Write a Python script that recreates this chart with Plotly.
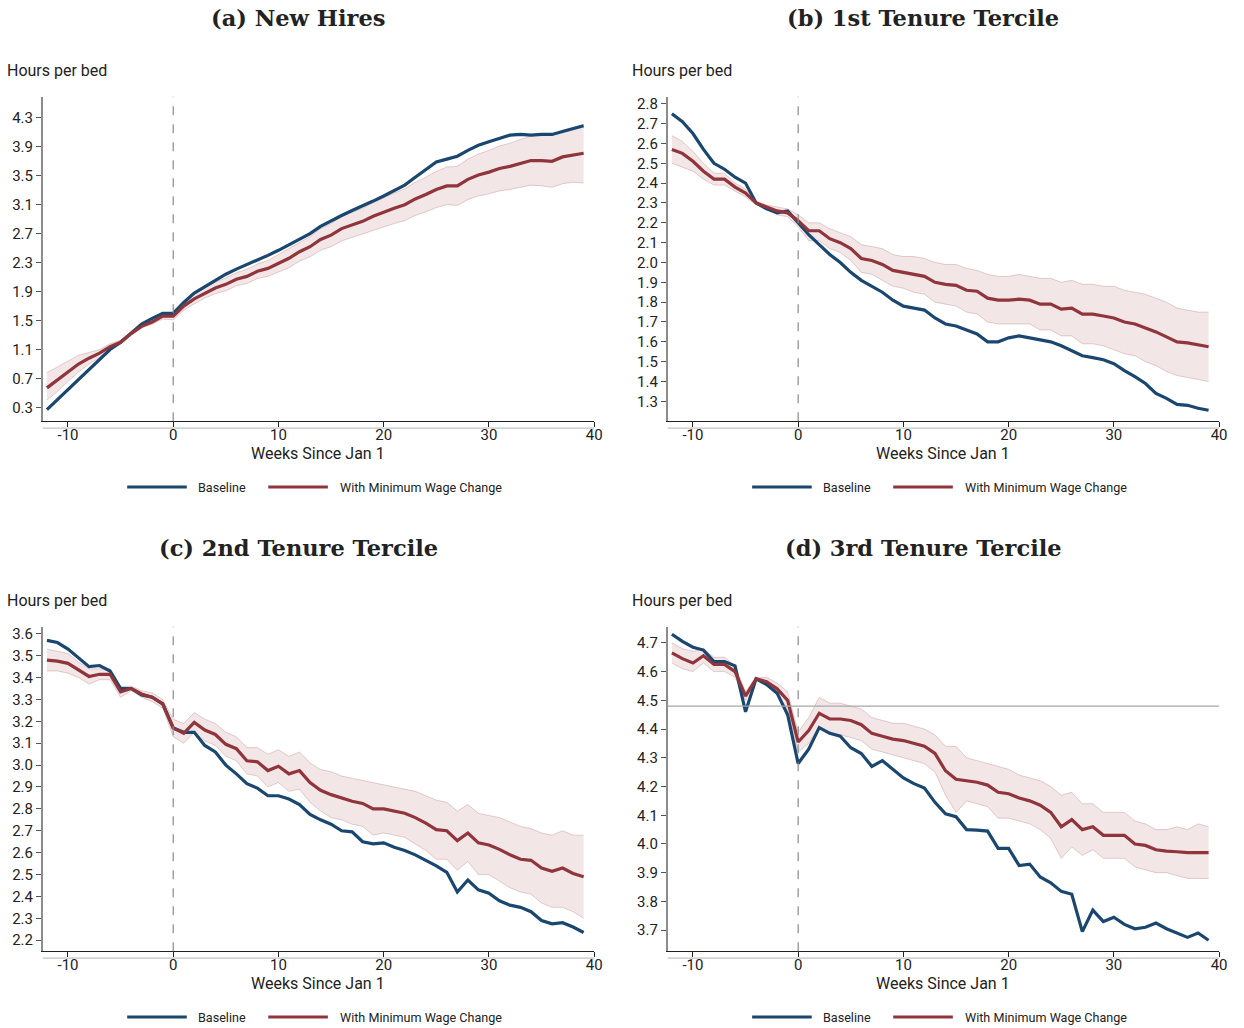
import plotly.graph_objects as go

W, H = 1244, 1028

weeks = list(range(-12, 40))

# Panel (a) New Hires
a_base = [0.27, 0.41, 0.55, 0.69, 0.82, 0.96, 1.10, 1.20, 1.33, 1.45, 1.53, 1.60,
          1.60, 1.75, 1.88, 1.97, 2.06, 2.14, 2.21, 2.27, 2.33, 2.40, 2.47, 2.55,
          2.63, 2.70, 2.80, 2.88, 2.95, 3.02, 3.08, 3.15, 3.22, 3.30, 3.37, 3.48,
          3.59, 3.69, 3.73, 3.77, 3.85, 3.92, 3.97, 4.02, 4.06, 4.07, 4.06, 4.07,
          4.07, 4.11, 4.15, 4.19]
a_mw = [0.57, 0.68, 0.80, 0.90, 0.98, 1.05, 1.14, 1.20, 1.32, 1.42, 1.48, 1.56,
        1.56, 1.70, 1.80, 1.88, 1.95, 2.00, 2.07, 2.11, 2.18, 2.22, 2.29, 2.36,
        2.45, 2.52, 2.62, 2.68, 2.77, 2.82, 2.87, 2.94, 3.00, 3.05, 3.10, 3.18,
        3.24, 3.31, 3.36, 3.36, 3.45, 3.51, 3.55, 3.60, 3.63, 3.67, 3.71, 3.71,
        3.70, 3.76, 3.79, 3.81]
a_hi = [0.78, 0.86, 0.94, 1.02, 1.06, 1.10, 1.18, 1.23, 1.34, 1.44, 1.51, 1.60,
        1.61, 1.76, 1.87, 1.95, 2.03, 2.09, 2.16, 2.21, 2.28, 2.33, 2.41, 2.49,
        2.58, 2.66, 2.77, 2.84, 2.94, 2.99, 3.05, 3.13, 3.20, 3.26, 3.32, 3.41,
        3.48, 3.56, 3.62, 3.63, 3.73, 3.80, 3.85, 3.91, 3.95, 4.00, 4.05, 4.06,
        4.06, 4.13, 4.17, 4.21]
a_lo = [0.40, 0.52, 0.66, 0.79, 0.90, 0.99, 1.10, 1.17, 1.30, 1.40, 1.45, 1.52,
        1.51, 1.64, 1.73, 1.81, 1.87, 1.91, 1.98, 2.01, 2.08, 2.11, 2.17, 2.23,
        2.32, 2.38, 2.47, 2.52, 2.60, 2.65, 2.69, 2.75, 2.80, 2.84, 2.88, 2.95,
        3.00, 3.06, 3.10, 3.09, 3.17, 3.22, 3.25, 3.29, 3.31, 3.34, 3.37, 3.36,
        3.34, 3.39, 3.41, 3.40]

# Panel (b) 1st Tenure Tercile
b_base = [2.75, 2.71, 2.65, 2.57, 2.50, 2.47, 2.43, 2.40, 2.30, 2.27, 2.25, 2.26,
          2.20, 2.14, 2.09, 2.04, 2.00, 1.95, 1.91, 1.88, 1.85, 1.81, 1.78, 1.77,
          1.76, 1.72, 1.69, 1.68, 1.66, 1.64, 1.60, 1.60, 1.62, 1.63, 1.62, 1.61,
          1.60, 1.58, 1.555, 1.53, 1.52, 1.51, 1.49, 1.455, 1.425, 1.39, 1.34, 1.315,
          1.285, 1.28, 1.265, 1.255]
b_mw = [2.57, 2.55, 2.51, 2.46, 2.42, 2.42, 2.38, 2.35, 2.30, 2.28, 2.26, 2.25,
        2.21, 2.16, 2.16, 2.12, 2.10, 2.07, 2.02, 2.01, 1.99, 1.96, 1.95, 1.94,
        1.93, 1.90, 1.89, 1.885, 1.86, 1.855, 1.82, 1.81, 1.81, 1.815, 1.81, 1.79,
        1.79, 1.765, 1.77, 1.74, 1.74, 1.73, 1.72, 1.70, 1.69, 1.67, 1.65, 1.625,
        1.60, 1.595, 1.585, 1.575]
b_hi = [2.64, 2.61, 2.56, 2.50, 2.45, 2.45, 2.40, 2.37, 2.31, 2.29, 2.28, 2.27,
        2.24, 2.20, 2.20, 2.17, 2.15, 2.13, 2.09, 2.08, 2.07, 2.04, 2.03, 2.03,
        2.02, 2.00, 1.99, 1.99, 1.97, 1.96, 1.94, 1.93, 1.93, 1.94, 1.93, 1.92,
        1.92, 1.90, 1.91, 1.89, 1.89, 1.88, 1.88, 1.86, 1.85, 1.84, 1.82, 1.80,
        1.77, 1.76, 1.75, 1.75]
b_lo = [2.50, 2.48, 2.46, 2.42, 2.39, 2.39, 2.36, 2.33, 2.29, 2.27, 2.24, 2.23,
        2.18, 2.11, 2.11, 2.07, 2.05, 2.01, 1.95, 1.94, 1.91, 1.88, 1.87, 1.85,
        1.84, 1.80, 1.79, 1.78, 1.75, 1.74, 1.70, 1.69, 1.69, 1.69, 1.69, 1.66,
        1.66, 1.63, 1.63, 1.59, 1.59, 1.58, 1.56, 1.54, 1.53, 1.50, 1.48, 1.45,
        1.43, 1.42, 1.41, 1.40]

# Panel (c) 2nd Tenure Tercile
c_base = [3.57, 3.56, 3.53, 3.49, 3.45, 3.455, 3.43, 3.35, 3.35, 3.32, 3.31, 3.28,
          3.17, 3.15, 3.15, 3.09, 3.06, 3.00, 2.96, 2.915, 2.895, 2.86, 2.86, 2.845,
          2.82, 2.775, 2.75, 2.73, 2.70, 2.695, 2.65, 2.64, 2.645, 2.625, 2.61, 2.59,
          2.565, 2.54, 2.51, 2.42, 2.475, 2.43, 2.415, 2.38, 2.36, 2.35, 2.33, 2.29,
          2.275, 2.28, 2.26, 2.235]
c_mw = [3.48, 3.475, 3.465, 3.435, 3.405, 3.415, 3.415, 3.335, 3.35, 3.325, 3.31, 3.28,
        3.17, 3.145, 3.195, 3.16, 3.14, 3.095, 3.075, 3.02, 3.015, 2.975, 2.995, 2.96,
        2.975, 2.92, 2.885, 2.865, 2.85, 2.835, 2.825, 2.80, 2.80, 2.79, 2.78, 2.76,
        2.735, 2.705, 2.70, 2.655, 2.69, 2.645, 2.635, 2.615, 2.59, 2.57, 2.565, 2.53,
        2.515, 2.53, 2.505, 2.49]
c_hi = [3.53, 3.52, 3.51, 3.47, 3.44, 3.44, 3.44, 3.36, 3.36, 3.34, 3.33, 3.30,
        3.21, 3.19, 3.24, 3.21, 3.19, 3.15, 3.13, 3.08, 3.08, 3.05, 3.07, 3.04,
        3.06, 3.01, 2.98, 2.97, 2.95, 2.94, 2.93, 2.92, 2.91, 2.90, 2.89, 2.88,
        2.86, 2.84, 2.83, 2.79, 2.82, 2.78, 2.77, 2.76, 2.74, 2.72, 2.71, 2.69,
        2.68, 2.70, 2.68, 2.68]
c_lo = [3.43, 3.43, 3.42, 3.40, 3.37, 3.39, 3.39, 3.31, 3.34, 3.31, 3.29, 3.26,
        3.13, 3.10, 3.15, 3.11, 3.09, 3.04, 3.02, 2.96, 2.95, 2.90, 2.92, 2.88,
        2.89, 2.83, 2.79, 2.76, 2.75, 2.73, 2.72, 2.68, 2.69, 2.68, 2.67, 2.64,
        2.61, 2.57, 2.57, 2.52, 2.56, 2.50, 2.50, 2.47, 2.44, 2.42, 2.41, 2.37,
        2.35, 2.35, 2.33, 2.30]

# Panel (d) 3rd Tenure Tercile
d_base = [4.73, 4.705, 4.685, 4.675, 4.635, 4.635, 4.62, 4.46, 4.575, 4.555, 4.525, 4.45,
          4.28, 4.33, 4.405, 4.385, 4.375, 4.335, 4.315, 4.27, 4.29, 4.26, 4.23, 4.21,
          4.195, 4.145, 4.105, 4.095, 4.05, 4.048, 4.045, 3.985, 3.985, 3.925, 3.93, 3.885,
          3.865, 3.835, 3.825, 3.695, 3.77, 3.73, 3.745, 3.72, 3.705, 3.71, 3.725, 3.705,
          3.69, 3.675, 3.69, 3.665]
d_mw = [4.665, 4.645, 4.63, 4.655, 4.625, 4.625, 4.60, 4.515, 4.575, 4.565, 4.54, 4.50,
        4.355, 4.395, 4.455, 4.435, 4.435, 4.43, 4.415, 4.385, 4.375, 4.365, 4.36, 4.35,
        4.34, 4.315, 4.255, 4.225, 4.22, 4.215, 4.205, 4.18, 4.175, 4.16, 4.15, 4.135,
        4.11, 4.06, 4.085, 4.05, 4.06, 4.03, 4.03, 4.03, 4.00, 3.995, 3.98, 3.975,
        3.973, 3.97, 3.97, 3.97]
d_hi = [4.70, 4.68, 4.67, 4.68, 4.65, 4.65, 4.62, 4.53, 4.58, 4.58, 4.56, 4.53,
        4.39, 4.44, 4.51, 4.49, 4.49, 4.48, 4.47, 4.44, 4.43, 4.42, 4.42, 4.41,
        4.40, 4.38, 4.34, 4.34, 4.30, 4.29, 4.28, 4.27, 4.26, 4.24, 4.23, 4.22,
        4.20, 4.17, 4.18, 4.14, 4.14, 4.11, 4.11, 4.11, 4.08, 4.07, 4.05, 4.05,
        4.06, 4.05, 4.07, 4.06]
d_lo = [4.63, 4.61, 4.60, 4.63, 4.60, 4.60, 4.58, 4.50, 4.57, 4.56, 4.52, 4.47,
        4.32, 4.35, 4.41, 4.39, 4.38, 4.37, 4.36, 4.33, 4.32, 4.31, 4.30, 4.29,
        4.28, 4.25, 4.17, 4.11, 4.15, 4.14, 4.13, 4.09, 4.09, 4.08, 4.07, 4.05,
        4.02, 3.95, 3.99, 3.96, 3.98, 3.95, 3.95, 3.95, 3.92, 3.91, 3.90, 3.90,
        3.89, 3.88, 3.88, 3.88]
d_ref = 4.48

titles = ["(a) New Hires", "(b) 1st Tenure Tercile",
          "(c) 2nd Tenure Tercile", "(d) 3rd Tenure Tercile"]
a_ticks = [0.3, 0.7, 1.1, 1.5, 1.9, 2.3, 2.7, 3.1, 3.5, 3.9, 4.3]
b_ticks = [1.3, 1.4, 1.5, 1.6, 1.7, 1.8, 1.9, 2.0, 2.1, 2.2, 2.3, 2.4, 2.5, 2.6, 2.7, 2.8]
c_ticks = [2.2, 2.3, 2.4, 2.5, 2.6, 2.7, 2.8, 2.9, 3.0, 3.1, 3.2, 3.3, 3.4, 3.5, 3.6]
d_ticks = [3.7, 3.8, 3.9, 4.0, 4.1, 4.2, 4.3, 4.4, 4.5, 4.6, 4.7]
x_ticks = [-10, 0, 10, 20, 30, 40]
x_tick_labels = ["-10", "0", "10", "20", "30", "40"]
legend_names = ["Baseline", "With Minimum Wage Change"]

BLUE = "#1a476f"
RED = "#90353b"
BAND_FILL = "rgba(144,53,59,0.12)"
BAND_LINE = "rgba(144,53,59,0.22)"
INK = "#222222"

panels = [
    dict(base=a_base, mw=a_mw, hi=a_hi, lo=a_lo, ticks=a_ticks, yr=[0.11, 4.59],
         px=(43, 598), py=(95, 420), ox=0, oy=0),
    dict(base=b_base, mw=b_mw, hi=b_hi, lo=b_lo, ticks=b_ticks, yr=[1.20, 2.835],
         px=(672, 1227), py=(95, 420), ox=629, oy=0),
    dict(base=c_base, mw=c_mw, hi=c_hi, lo=c_lo, ticks=c_ticks, yr=[2.15, 3.632],
         px=(43, 598), py=(626, 951), ox=0, oy=531),
    dict(base=d_base, mw=d_mw, hi=d_hi, lo=d_lo, ticks=d_ticks, yr=[3.627, 4.756],
         px=(672, 1227), py=(626, 951), ox=629, oy=531),
]

def fx(p):
    return p / W

def fy(p):
    return 1 - p / H

fig = go.Figure()
layout = dict(width=W, height=H, margin=dict(l=0, r=0, t=0, b=0),
              paper_bgcolor="white", plot_bgcolor="white", showlegend=False,
              font=dict(family="Roboto", color=INK))
shapes = []
annotations = []

for i, p in enumerate(panels):
    n = "" if i == 0 else str(i + 1)
    xa, ya = "x" + n, "y" + n
    fig.add_trace(go.Scatter(x=weeks, y=p["lo"], mode="lines", xaxis=xa, yaxis=ya,
                             line=dict(color=BAND_LINE, width=1), hoverinfo="skip"))
    fig.add_trace(go.Scatter(x=weeks, y=p["hi"], mode="lines", xaxis=xa, yaxis=ya,
                             fill="tonexty", fillcolor=BAND_FILL,
                             line=dict(color=BAND_LINE, width=1), hoverinfo="skip"))
    fig.add_trace(go.Scatter(x=weeks, y=p["base"], mode="lines", xaxis=xa, yaxis=ya,
                             name=legend_names[0], line=dict(color=BLUE, width=3.2)))
    fig.add_trace(go.Scatter(x=weeks, y=p["mw"], mode="lines", xaxis=xa, yaxis=ya,
                             name=legend_names[1], line=dict(color=RED, width=3.2)))
    layout["xaxis" + n] = dict(domain=[fx(p["px"][0]), fx(p["px"][1])], range=[-12.4, 40],
                               anchor=ya, tickvals=x_ticks, ticktext=x_tick_labels,
                               ticks="outside", ticklen=5, ticklabelstandoff=-5,
                               tickcolor=INK, showline=True, linecolor=INK, linewidth=1.2,
                               showgrid=False, zeroline=False,
                               tickfont=dict(family="Roboto", size=15, color=INK))
    layout["yaxis" + n] = dict(domain=[fy(p["py"][1]), fy(p["py"][0])], range=p["yr"],
                               anchor=xa, tickvals=p["ticks"], tickformat=".1f",
                               ticks="outside", ticklen=5, tickcolor="#555",
                               showline=True, linecolor="#8c8c8c", linewidth=1.5,
                               showgrid=False, zeroline=False,
                               tickfont=dict(family="Roboto", size=15, color=INK))
    # dashed vertical line at week 0
    shapes.append(dict(type="line", xref=xa, yref=ya + " domain", x0=0, x1=0, y0=0, y1=1,
                       line=dict(color="#8a8a8a", width=1.2, dash="dash")))
    ox, oy = p["ox"], p["oy"]
    # faint secondary baseline under the x axis
    shapes.append(dict(type="line", xref="paper", yref="paper", x0=fx(p["px"][0]), x1=fx(p["px"][1]),
                       y0=fy(p["py"][1] + 7), y1=fy(p["py"][1] + 7),
                       line=dict(color="#c4c4c4", width=1.2)))
    # titles
    annotations.append(dict(text="<b>" + titles[i] + "</b>", xref="paper", yref="paper",
                            x=fx(300 + ox), y=fy(16 + oy), xanchor="center", yanchor="middle",
                            showarrow=False,
                            font=dict(family="DejaVu Serif", size=22.5, color=INK)))
    annotations.append(dict(text="Hours per bed", xref="paper", yref="paper",
                            x=fx(5 + ox), y=fy(69 + oy), xanchor="left", yanchor="middle",
                            showarrow=False, font=dict(family="Roboto", size=16, color=INK)))
    annotations.append(dict(text="Weeks Since Jan 1", xref="paper", yref="paper",
                            x=fx(320 + ox), y=fy(452 + oy), xanchor="center", yanchor="middle",
                            showarrow=False, font=dict(family="Roboto", size=16, color=INK)))
    # legend keys
    ly = 486 + oy
    shapes.append(dict(type="line", xref="paper", yref="paper", x0=fx(128 + ox), x1=fx(188 + ox),
                       y0=fy(ly), y1=fy(ly), line=dict(color=BLUE, width=3)))
    shapes.append(dict(type="line", xref="paper", yref="paper", x0=fx(270 + ox), x1=fx(330 + ox),
                       y0=fy(ly), y1=fy(ly), line=dict(color=RED, width=3)))
    annotations.append(dict(text=legend_names[0], xref="paper", yref="paper",
                            x=fx(197 + ox), y=fy(ly), xanchor="left", yanchor="middle",
                            showarrow=False, font=dict(family="Roboto", size=12.6, color=INK)))
    annotations.append(dict(text=legend_names[1], xref="paper", yref="paper",
                            x=fx(340 + ox), y=fy(ly), xanchor="left", yanchor="middle",
                            showarrow=False, font=dict(family="Roboto", size=12.6, color=INK)))

# horizontal reference line in panel (d)
shapes.append(dict(type="line", xref="x4 domain", yref="y4", x0=0, x1=1, y0=d_ref, y1=d_ref,
                   line=dict(color="#a8a8a8", width=1.2)))

layout["shapes"] = shapes
layout["annotations"] = annotations
fig.update_layout(**layout)
fig.write_html("out.html")
